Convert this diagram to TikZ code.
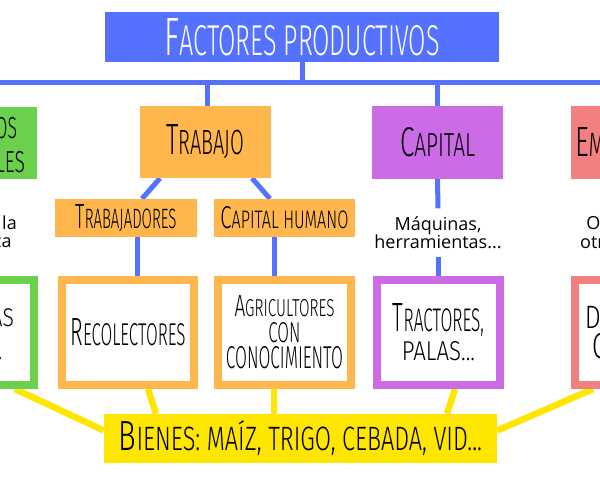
\documentclass[tikz,border=0pt]{standalone}
\usepackage{fontspec}
\usepackage{graphicx}
\setmainfont{Open Sans}
\IfFontExistsTF{Fira Sans Light}
  {\newfontfamily\am{Fira Sans Light}}
  {\IfFontExistsTF{Lato Light}
    {\newfontfamily\am{Lato Light}}
    {\newfontfamily\am{Fira Sans}}}
\usetikzlibrary{backgrounds}
\definecolor{fpblue}{RGB}{84,114,255}
\definecolor{fporange}{RGB}{255,183,77}
\definecolor{fpgreen}{RGB}{107,209,77}
\definecolor{fppurple}{RGB}{203,108,230}
\definecolor{fpred}{RGB}{242,128,128}
\definecolor{fpyellow}{RGB}{255,230,0}
\newcommand\I[1]{\scalebox{1.25}{#1}}
\newcommand\R[3]{\resizebox{#1pt}{#2pt}{\am #3}}
\tikzset{
  topbox/.style={fill=#1, minimum width=131, minimum height=72, inner sep=0, align=center},
  subbox/.style={fill=fporange, minimum width=142, minimum height=38, inner sep=0, align=center},
  botbox/.style={draw=#1, line width=8, fill=white, minimum width=132, minimum height=105, inner sep=0, align=center},
  bodytext/.style={inner sep=0, align=center, font=\fontsize{18}{18}\selectfont},
  bl/.style={draw=fpblue, line width=5},
  yl/.style={draw=fpyellow, line width=6.5},
}
\begin{document}
\begin{tikzpicture}[x=1pt,y=-1pt]
\useasboundingbox (0,0) rectangle (600,480);
% title
\node[fill=fpblue, minimum width=394, minimum height=50, inner sep=0, text=white] (title) at (302,37)
  {\R{275}{37}{\I{F}ACTORES PRODUCTIVOS}};
\coordinate (hL) at (-10,82);
\coordinate (hR) at (610,82);
% top level boxes
\node[topbox=fpgreen, minimum width=124, font=\fontsize{10}{34}\selectfont] (greentop) at (-25,143)
  {\R{84}{26}{\I{R}ECURSOS}\\\R{100}{26}{\I{N}ATURALES}};
\node[topbox=fporange] (trab) at (205.5,142) {\R{78}{30}{\I{T}RABAJO}};
\node[topbox=fppurple, minimum height=73] (cap) at (437.5,142.5) {\R{75}{29}{\I{C}APITAL}};
\node[topbox=fpred, minimum height=73] (redtop) at (636.5,142.5) {\R{123}{29}{\I{E}MPRESARIO}};
% second level
\node[subbox] (trabaj) at (126,218) {\R{101}{24}{\I{T}RABAJADORES}};
\node[subbox, minimum width=141] (caphum) at (284.5,218) {\R{128}{22}{\I{C}APITAL HUMANO}};
\node[bodytext, anchor=east] (ltext) at (17,232) {Dones de la\\ naturaleza};
\node[bodytext, minimum height=48] (maq) at (438,232.5) {Máquinas,\\ herramientas...};
\node[bodytext, anchor=west] (rtext) at (580,232) {Organiza los\\ otros factores};
% bottom boxes
\node[botbox=fpgreen, minimum width=118, font=\fontsize{10}{33}\selectfont] (greenbot) at (-25,332.5)
  {\R{78}{22}{\I{T}IERRAS}\\\R{54}{18}{AGUA...}};
\node[botbox=fporange] (recol) at (128,332.5) {\R{115}{27}{\I{R}ECOLECTORES}};
\node[botbox=fporange, minimum width=133, font=\fontsize{10}{26}\selectfont] (agric) at (284.5,332.5)
  {\R{100}{21}{\I{A}GRICULTORES}\\\R{32}{20}{CON}\\\R{117}{22}{CONOCIMIENTO}};
\node[botbox=fppurple, minimum width=123, font=\fontsize{10}{29}\selectfont] (tract) at (438.5,332.5)
  {\R{91}{28}{\I{T}RACTORES,}\\\R{73}{19}{PALAS...}};
\node[botbox=fpred, minimum width=123, font=\fontsize{10}{30}\selectfont] (redbot) at (636.5,332.5)
  {\R{103}{23}{\I{D}IRECCIÓN,}\\\R{87}{25}{\I{C}ONTROL}};
% goods
\node[fill=fpyellow, minimum width=393, minimum height=49, inner sep=0] (bienes) at (300.5,438.5)
  {\R{363}{30}{\I{B}IENES: MAÍZ, TRIGO, CEBADA, VID...}};
\begin{scope}[on background layer]
\fill[white] (0,0) rectangle (600,480);
\draw[bl] (hL) -- (hR);
\draw[bl] (title.south) -- (title.south |- hL);
\draw[bl] (greentop.north |- hL) -- (greentop.north);
\draw[bl] ([xshift=1.5]trab.north |- hL) -- ([xshift=1.5]trab.north);
\draw[bl] (cap.north |- hL) -- (cap.north);
\draw[bl] (redtop.north |- hL) -- (redtop.north);
\draw[bl] ([xshift=-45.5]trab.south) -- ([xshift=16]trabaj.north);
\draw[bl] ([xshift=46.5]trab.south) -- ([xshift=-14.5]caphum.north);
\draw[bl] ([xshift=11]trabaj.south) -- ([xshift=11]trabaj.south |- recol.north);
\draw[bl] ([xshift=-10.5]caphum.south) -- ([xshift=-10.5]caphum.south |- agric.north);
\draw[bl] (cap.south) -- (maq.north);
\draw[bl] (maq.south) -- (maq.south |- tract.north);
\draw[bl] (greentop.south) -- (greentop.south |- ltext.north);
\draw[bl] (greentop.south |- ltext.south) -- (greentop.south |- greenbot.north);
\draw[bl] (redtop.south) -- (redtop.south |- rtext.north);
\draw[bl] (redtop.south |- rtext.south) -- (redbot.north);
\draw[yl] ([xshift=40]greenbot.south) -- ([yshift=8]bienes.west);
\draw[yl] ([xshift=20]recol.south) -- ([xshift=-144.5]bienes.north);
\draw[yl] ([xshift=-10.5]agric.south) -- ([xshift=-10.5]agric.south |- bienes.north);
\draw[yl] ([xshift=16.5]tract.south) -- ([xshift=146.5]bienes.north);
\draw[yl] ([xshift=-43.5]redbot.south) -- ([yshift=8]bienes.east);
\end{scope}
\end{tikzpicture}
\end{document}
